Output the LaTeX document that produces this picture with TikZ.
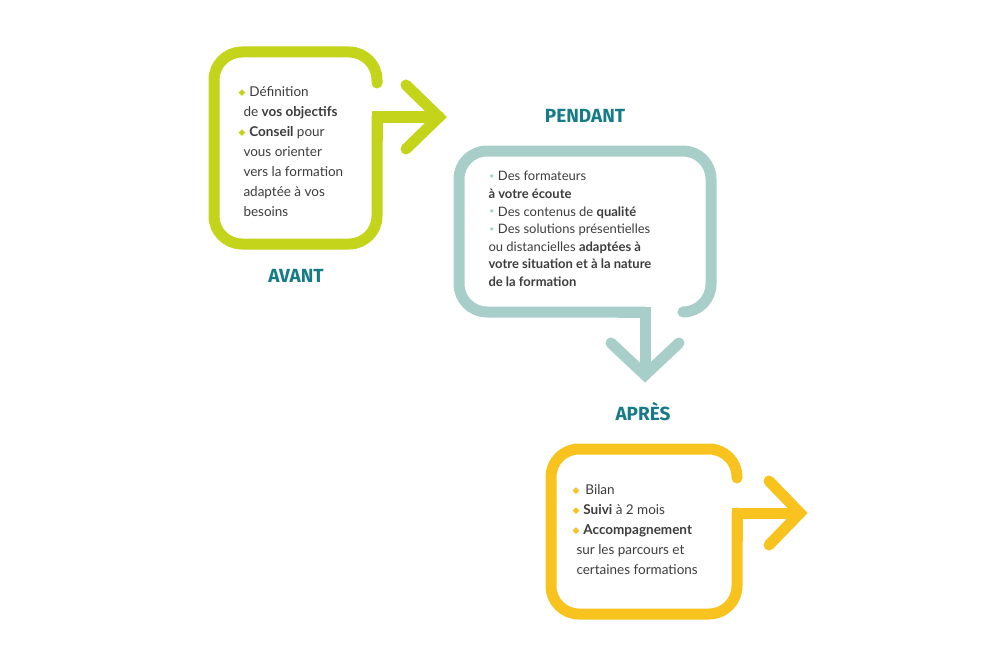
\documentclass[tikz,border=0pt]{standalone}
\usepackage{fontspec}
\setmainfont{Lato}
\newfontfamily\titrefont{Fira Sans}
\newfontfamily\symfont{DejaVu Sans}
\definecolor{vert}{HTML}{C3D41B}
\definecolor{gris}{HTML}{A7CEC8}
\definecolor{jaune}{HTML}{F8C31E}
\definecolor{bleu}{HTML}{167B86}
\definecolor{texte}{HTML}{3C3C3C}
\newcommand\puce[1]{\raisebox{1pt}{\color{#1}\symfont\fontsize{9}{9}\selectfont ◆}}
\newcommand\point{\raisebox{0.5pt}{\color{gris}\symfont\fontsize{11}{11}\selectfont •}}

\begin{document}
\begin{tikzpicture}[x=1pt, y=-1pt, line width=11pt, line cap=round,
  trait/.style={rounded corners=28pt},
  pointe/.style={line join=miter},
  titre/.style={text=bleu, font=\titrefont\bfseries\fontsize{19}{19}\selectfont},
  liste/.style={text=texte, align=left, anchor=north west, inner sep=0pt}]
\useasboundingbox (0,0) rectangle (1000,666);
% avant
\draw[vert, trait] (377,83) -- (377,52) -- (214,52) -- (214,244) -- (377,244) -- (377,117);
\draw[vert, pointe] (377,140) -- (377,117) -- (439,117);
\draw[vert, pointe] (406,85) -- (439,117) -- (406,149);
% pendant
\draw[gris, trait] (683,312) -- (711,312) -- (711,151) -- (459,151) -- (459,312) -- (645,312);
\draw[gris, pointe] (620,312) -- (645,312) -- (645,375);
\draw[gris, pointe] (611,343) -- (645,375) -- (679,343);
% apres
\draw[jaune, trait] (737,478) -- (737,449) -- (551,449) -- (551,614) -- (737,614) -- (737,513);
\draw[jaune, pointe] (737,540) -- (737,513) -- (800,513);
\draw[jaune, pointe] (769,481) -- (800,513) -- (769,545);

\node (avant) at (296,276) [titre]{AVANT};
\node (pendant) at (585,116) [titre]{PENDANT};
\node (apres) at (643,412) [titre]{APRÈS};

\node (liste1) at (238,81) [liste, font=\fontsize{13.5}{20}\selectfont]{%
\hspace{-5pt}\puce{vert}\hspace{4pt}Définition\\
de \textbf{vos objectifs}\\
\hspace{-5pt}\puce{vert}\hspace{4pt}\textbf{Conseil} pour\\
vous orienter\\
vers la formation\\
adaptée à vos\\
besoins};
\node (liste2) at (483,166) [liste, font=\fontsize{13}{17.6}\selectfont]{%
\point\hspace{3pt}Des formateurs\\
\textbf{à votre écoute}\\
\point\hspace{3pt}Des contenus de \textbf{qualité}\\
\point\hspace{3pt}Des solutions présentielles\\
ou distancielles \textbf{adaptées à}\\
\textbf{votre situation et à la nature}\\
\textbf{de la formation}};
\node (liste3) at (567,479) [liste, font=\fontsize{13.5}{20}\selectfont]{%
\puce{jaune}\hspace{6pt}Bilan\\
\puce{jaune}\hspace{4pt}\textbf{Suivi} à 2 mois\\
\puce{jaune}\hspace{4pt}\textbf{Accompagnement}\\
\hspace{4pt}sur les parcours et\\
\hspace{4pt}certaines formations};
\end{tikzpicture}
\end{document}
